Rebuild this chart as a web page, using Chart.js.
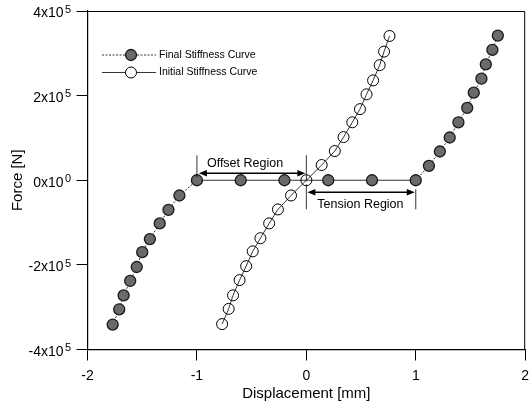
<!DOCTYPE html>
<html>
<head>
<meta charset="utf-8">
<script src="https://cdn.jsdelivr.net/npm/chart.js@4.4.1/dist/chart.umd.min.js"></script>
<style>
  body { margin: 0; background: #fff; }
  #grafico { display: block; }
</style>
</head>
<body>
<canvas id="grafico" width="532" height="407"></canvas>
<script>
const fuente = "'Liberation Sans', Arial, sans-serif";

// Final stiffness curve (points bottom-left to top-right)
const finalX = [-1.77, -1.71, -1.67, -1.61, -1.55, -1.50, -1.43, -1.34, -1.26, -1.16, -1.0,
  -0.6, -0.2, 0.2, 0.6,
  1.0, 1.12, 1.22, 1.31, 1.39, 1.47, 1.53, 1.60, 1.64, 1.70, 1.75];
const finalY = [-341000, -305000, -272000, -238000, -205000, -170000, -139000, -102000, -70000, -36000, 0,
  0, 0, 0, 0,
  0, 34000, 68000, 101000, 137000, 171000, 207000, 240000, 274000, 308000, 342000];

// Initial stiffness curve
const initialX = [-0.77, -0.71, -0.67, -0.61, -0.55, -0.49, -0.42, -0.34, -0.26, -0.14, 0,
  0.14, 0.26, 0.34, 0.42, 0.49, 0.55, 0.61, 0.67, 0.71, 0.76];
const initialY = [-340000, -304000, -272000, -236000, -203000, -168000, -137000, -102000, -69000, -36000, 0,
  36000, 69000, 102000, 137000, 168000, 203000, 236000, 272000, 304000, 341000];

const seriesNames = ["Final Stiffness Curve", "Initial Stiffness Curve"];

const xTicks = [-2, -1, 0, 1, 2];
const xTickLabels = ["-2", "-1", "0", "1", "2"];
const yTicks = [-400000, -200000, 0, 200000, 400000];
const yTickBase = ["-4x10", "-2x10", "0x10", "2x10", "4x10"];
const yTickExp = ["5", "5", "0", "5", "5"];

// Annotated regions along the zero-force line
const regionNames = ["Offset Region", "Tension Region"];
const regionStart = [-1, 0];
const regionEnd = [0, 1];

function puntos(xs, ys) {
  return xs.map((x, i) => ({ x: x, y: ys[i] }));
}

// y tick labels with superscript exponent
const etiquetasY = {
  id: "etiquetasY",
  afterDraw(chart) {
    const ctx = chart.ctx;
    const y = chart.scales.y;
    ctx.save();
    ctx.fillStyle = "#000";
    ctx.textAlign = "right";
    ctx.textBaseline = "alphabetic";
    yTicks.forEach((v, i) => {
      const py = y.getPixelForValue(v);
      ctx.font = "11px " + fuente;
      ctx.fillText(yTickExp[i], 71, py + 1.8);
      ctx.font = "14px " + fuente;
      ctx.fillText(yTickBase[i], 63.5, py + 6.3);
    });
    ctx.restore();
  }
};

// top and right frame lines
const marco = {
  id: "marco",
  afterDraw(chart) {
    const a = chart.chartArea;
    const ctx = chart.ctx;
    ctx.save();
    ctx.strokeStyle = "#000";
    ctx.lineWidth = 1;
    ctx.beginPath();
    ctx.moveTo(a.left, a.top + 0.5);
    ctx.lineTo(a.right - 0.5, a.top + 0.5);
    ctx.lineTo(a.right - 0.5, a.bottom);
    ctx.stroke();
    ctx.restore();
  }
};

function flecha(ctx, x1, x2, y) {
  ctx.beginPath();
  ctx.moveTo(x1 + 6, y);
  ctx.lineTo(x2 - 6, y);
  ctx.stroke();
  ctx.beginPath();
  ctx.moveTo(x1, y);
  ctx.lineTo(x1 + 8, y - 3.2);
  ctx.lineTo(x1 + 8, y + 3.2);
  ctx.closePath();
  ctx.fill();
  ctx.beginPath();
  ctx.moveTo(x2, y);
  ctx.lineTo(x2 - 8, y - 3.2);
  ctx.lineTo(x2 - 8, y + 3.2);
  ctx.closePath();
  ctx.fill();
}

function linea(ctx, x, y1, y2) {
  ctx.beginPath();
  ctx.moveTo(x, y1);
  ctx.lineTo(x, y2);
  ctx.stroke();
}

const regiones = {
  id: "regiones",
  afterDatasetsDraw(chart) {
    const ctx = chart.ctx;
    const xs = chart.scales.x;
    const y0 = chart.scales.y.getPixelForValue(0);
    ctx.save();
    ctx.strokeStyle = "#000";
    ctx.fillStyle = "#000";
    ctx.font = "12.5px " + fuente;
    ctx.textAlign = "left";
    ctx.textBaseline = "middle";

    // Offset region: above the line
    let a = xs.getPixelForValue(regionStart[0]);
    let b = xs.getPixelForValue(regionEnd[0]);
    ctx.lineWidth = 0.8;
    linea(ctx, a, y0 - 25, y0 - 3);
    linea(ctx, b, y0 - 25, y0 + 1);
    ctx.lineWidth = 1.4;
    flecha(ctx, a + 2, b - 1, y0 - 7);
    ctx.fillText(regionNames[0], a + 10, y0 - 17);

    // Tension region: below the line
    a = xs.getPixelForValue(regionStart[1]);
    b = xs.getPixelForValue(regionEnd[1]);
    ctx.lineWidth = 0.8;
    linea(ctx, a, y0 + 4, y0 + 29);
    linea(ctx, b, y0 + 9, y0 + 29);
    ctx.lineWidth = 1.4;
    flecha(ctx, a + 1, b - 1, y0 + 12);
    ctx.fillText(regionNames[1], a + 11, y0 + 24);
    ctx.restore();
  }
};

// legend in the upper-left corner
const leyenda = {
  id: "leyenda",
  afterDraw(chart) {
    const ctx = chart.ctx;
    ctx.save();
    chart.data.datasets.forEach((ds, i) => {
      const y = 55 + i * 17.5;
      ctx.strokeStyle = "#000";
      ctx.lineWidth = 0.8;
      ctx.setLineDash(i === 0 ? [2, 1.5] : []);
      ctx.beginPath();
      ctx.moveTo(102, y);
      ctx.lineTo(156, y);
      ctx.stroke();
      ctx.setLineDash([]);
      ctx.beginPath();
      ctx.arc(131, y, 5.5, 0, Math.PI * 2);
      ctx.fillStyle = i === 0 ? ds.pointBackgroundColor : "#fff";
      ctx.fill();
      ctx.lineWidth = ds.pointBorderWidth;
      ctx.strokeStyle = ds.pointBorderColor;
      ctx.stroke();
      ctx.fillStyle = "#000";
      ctx.font = "10.5px " + fuente;
      ctx.textAlign = "left";
      ctx.textBaseline = "middle";
      ctx.fillText(ds.label, 159, y);
    });
    ctx.restore();
  }
};

new Chart(document.getElementById("grafico"), {
  type: "scatter",
  data: {
    datasets: [
      {
        label: seriesNames[0],
        data: puntos(finalX, finalY),
        showLine: true,
        borderColor: "#000",
        borderWidth: 0.8,
        segment: {
          borderDash: c => (c.p0.parsed.y === 0 && c.p1.parsed.y === 0) ? [] : [2, 1.5]
        },
        pointRadius: 5.5,
        pointBackgroundColor: "#6a6a6a",
        pointBorderColor: "#1a1a1a",
        pointBorderWidth: 1.3
      },
      {
        label: seriesNames[1],
        data: puntos(initialX, initialY),
        showLine: true,
        borderColor: "#000",
        borderWidth: 0.8,
        pointRadius: 5.5,
        pointBackgroundColor: "rgba(255,255,255,0)",
        pointBorderColor: "#000",
        pointBorderWidth: 1
      }
    ]
  },
  options: {
    responsive: false,
    animation: false,
    layout: { padding: { top: 11, right: 2.5, left: 0, bottom: 0 } },
    plugins: { legend: { display: false }, tooltip: { enabled: false } },
    scales: {
      x: {
        type: "linear",
        min: -2,
        max: 2,
        afterBuildTicks: s => { s.ticks = xTicks.map(v => ({ value: v })); },
        afterFit: s => { s.height = 57.5; s.paddingLeft = 0; s.paddingRight = 0; },
        ticks: {
          color: "#000",
          font: { size: 14, family: fuente },
          padding: 7,
          maxRotation: 0,
          callback: (v) => xTickLabels[xTicks.indexOf(v)]
        },
        grid: { drawOnChartArea: false, tickLength: 11, tickColor: "#000", tickWidth: 1 },
        border: { color: "#000", width: 1.2 },
        title: {
          display: true,
          text: "Displacement [mm]",
          color: "#000",
          font: { size: 15, family: fuente },
          padding: { top: 4, bottom: 4 }
        }
      },
      y: {
        type: "linear",
        min: -400000,
        max: 400000,
        afterBuildTicks: s => { s.ticks = yTicks.map(v => ({ value: v })); },
        afterFit: s => { s.width = 87.5; s.paddingTop = 0; s.paddingBottom = 0; },
        ticks: { callback: () => "" },
        grid: { drawOnChartArea: false, tickLength: 11, tickColor: "#000", tickWidth: 1 },
        border: { color: "#000", width: 1.2 },
        title: {
          display: true,
          text: "Force [N]",
          color: "#000",
          font: { size: 15, family: fuente },
          padding: { top: 9, bottom: 0 }
        }
      }
    }
  },
  plugins: [etiquetasY, marco, regiones, leyenda]
});
</script>
</body>
</html>
